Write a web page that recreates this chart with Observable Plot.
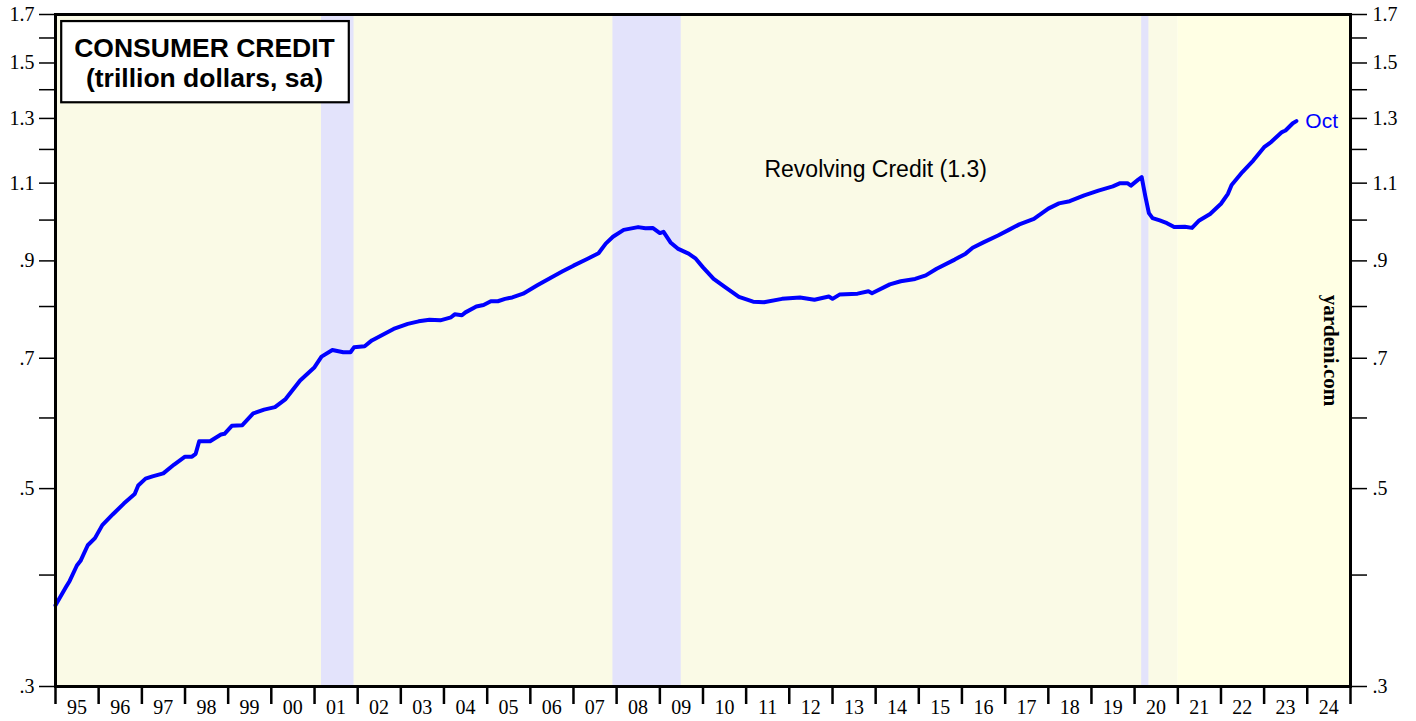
<!DOCTYPE html>
<html><head><meta charset="utf-8">
<script src="https://cdn.jsdelivr.net/npm/d3@7"></script>
<script src="https://cdn.jsdelivr.net/npm/@observablehq/plot@0.6"></script>
<style>body{margin:0;background:#fff;} #chart svg{display:block;}</style>
</head><body><div id="chart"></div>
<script>
// Revolving consumer credit, trillion dollars, sa
const dates = ["1995-01","1995-04","1995-05","1995-07","1995-08","1995-10","1995-12",
"1996-02","1996-05","1996-08","1996-11","1996-12","1997-02","1997-04","1997-07","1997-10",
"1998-01","1998-03","1998-04","1998-05","1998-08","1998-11","1998-12","1999-02","1999-05",
"1999-08","1999-11","2000-02","2000-05","2000-09","2001-01","2001-03","2001-06","2001-09",
"2001-11","2001-12","2002-03","2002-05","2002-11","2003-03","2003-06","2003-09","2003-12",
"2004-03","2004-04","2004-06","2004-07","2004-10","2004-12","2005-02","2005-04","2005-06",
"2005-08","2005-11","2006-03","2006-07","2006-10","2007-01","2007-05","2007-08","2007-10",
"2007-12","2008-03","2008-07","2008-09","2008-11","2009-01","2009-02","2009-04","2009-06",
"2009-09","2009-11","2010-01","2010-04","2010-07","2010-11","2011-03","2011-06","2011-11",
"2012-04","2012-08","2012-12","2013-01","2013-03","2013-08","2013-11","2013-12","2014-05",
"2014-08","2014-12","2015-03","2015-06","2015-11","2016-02","2016-04","2016-07","2016-11",
"2017-02","2017-05","2017-09","2018-01","2018-04","2018-07","2018-11","2019-03","2019-07",
"2019-09","2019-11","2019-12","2020-02","2020-03","2020-04","2020-05","2020-06","2020-08",
"2020-10","2020-12","2021-03","2021-05","2021-07","2021-10","2022-01","2022-03","2022-04",
"2022-07","2022-10","2023-01","2023-03","2023-06","2023-07","2023-09","2023-10"];
const values = [0.370,0.388,0.394,0.410,0.415,0.432,0.440,
0.455,0.468,0.481,0.493,0.504,0.513,0.516,0.520,0.532,
0.543,0.543,0.547,0.565,0.565,0.575,0.576,0.588,0.589,
0.607,0.613,0.617,0.630,0.661,0.684,0.703,0.715,0.711,
0.711,0.720,0.722,0.733,0.755,0.765,0.770,0.773,0.772,
0.778,0.784,0.782,0.788,0.800,0.803,0.811,0.811,0.816,
0.819,0.827,0.845,0.863,0.876,0.889,0.905,0.918,0.941,
0.958,0.975,0.982,0.979,0.980,0.967,0.970,0.944,0.929,
0.917,0.905,0.885,0.859,0.842,0.820,0.810,0.809,0.816,
0.819,0.814,0.821,0.816,0.825,0.827,0.832,0.828,0.847,
0.854,0.859,0.867,0.882,0.903,0.917,0.931,0.944,0.961,
0.975,0.989,1.003,1.030,1.044,1.050,1.066,1.079,1.091,
1.100,1.100,1.093,1.110,1.117,1.063,1.018,1.005,0.999,
0.992,0.982,0.983,0.980,0.999,1.016,1.043,1.070,1.095,
1.132,1.166,1.207,1.223,1.255,1.260,1.284,1.291];

const recessionStarts = ["2001-03","2007-12","2020-03"];
const recessionEnds   = ["2001-12","2009-07","2020-05"];
const periodStarts = ["1995-01","2021-01"];
const periodEnds   = ["2021-01","2025-01"];

const yTickValues = [0.3,0.4,0.5,0.6,0.7,0.8,0.9,1.0,1.1,1.2,1.3,1.4,1.5,1.6,1.7];
const yLabelValues = [0.3,0.5,0.7,0.9,1.1,1.3,1.5,1.7];
const yLabelTexts = [".3",".5",".7",".9","1.1","1.3","1.5","1.7"];
const xLabelTexts = ["95","96","97","98","99","00","01","02","03","04","05","06","07","08","09",
"10","11","12","13","14","15","16","17","18","19","20","21","22","23","24"];
const firstYear = 1995;

const seriesName = "Revolving Credit (1.3)";
const lastLabel = "Oct";
const titleText = "CONSUMER CREDIT\n(trillion dollars, sa)";
const sourceText = "yardeni.com";

const parse = d3.utcParse("%Y-%m");
const data = dates.map((d, i) => ({date: parse(d), value: values[i]}));
const recessions = recessionStarts.map((s, i) => ({x1: parse(s), x2: parse(recessionEnds[i])}));
const periods = periodStarts.map((s, i) => ({x1: parse(s), x2: parse(periodEnds[i]), k: i}));
const yearTicks = d3.range(firstYear, firstYear + xLabelTexts.length + 1).map(y => new Date(Date.UTC(y, 0, 1)));
const midTicks = xLabelTexts.map((t, i) => new Date(Date.UTC(firstYear + i, 6, 1)));
const labelMap = new Map(yLabelValues.map((v, i) => [Math.round(v * 10), yLabelTexts[i]]));
const yFmt = d => labelMap.get(Math.round(d * 10)) ?? "";
const xFmt = d => xLabelTexts[d.getUTCFullYear() - firstYear];
const last = data[data.length - 1];

const SERIF = "'Liberation Serif','Times New Roman',Times,serif";
const SANS = "'Liberation Sans',Arial,Helvetica,sans-serif";

const chart = Plot.plot({
  width: 1416, height: 721,
  marginLeft: 55, marginRight: 66, marginTop: 14, marginBottom: 35,
  style: {fontFamily: SERIF, fontSize: "20px", background: "#fff", color: "#000"},
  x: {type: "utc", domain: [yearTicks[0], yearTicks[yearTicks.length - 1]]},
  y: {type: "log", domain: [0.3, 1.7]},
  marks: [
    Plot.rect(periods, {x1: "x1", x2: "x2", fill: d => d.k === 0 ? "#fafae6" : "#ffffe4"}),
    Plot.rect(recessions, {x1: "x1", x2: "x2", fill: "#e3e3fb"}),
    Plot.axisY({anchor: "left", ticks: yTickValues, tickSize: 16, tickPadding: 5, tickFormat: yFmt,
      strokeWidth: 1.5, fontSize: 20, fontFamily: SERIF, label: null}),
    Plot.axisY({anchor: "right", ticks: yTickValues, tickSize: 16, tickPadding: 6, tickFormat: yFmt,
      strokeWidth: 1.5, fontSize: 20, fontFamily: SERIF, label: null}),
    Plot.axisX({ticks: yearTicks, tickSize: 18, tickFormat: () => "", strokeWidth: 2.5, label: null}),
    Plot.axisX({ticks: midTicks, tickSize: 0, tickPadding: 13, tickFormat: xFmt,
      fontSize: 20, fontFamily: SERIF, label: null}),
    Plot.line(data, {x: "date", y: "value", stroke: "#0000ff", strokeWidth: 4,
      strokeLinejoin: "round", strokeLinecap: "round"}),
    Plot.text([last], {x: "date", y: "value", text: () => lastLabel, dx: 9, textAnchor: "start",
      fill: "#0000ff", fontSize: 21, fontFamily: SANS}),
    Plot.text([seriesName], {x: () => parse("2014-01"), y: () => 1.14, text: d => d,
      fontSize: 23, fontFamily: SANS, fill: "#000"}),
    Plot.text([sourceText], {frameAnchor: "right", dx: -20, rotate: 90, text: d => d,
      textAnchor: "middle", lineAnchor: "middle",
      fontSize: 21, fontWeight: "bold", fontFamily: SERIF, fill: "#000"}),
    Plot.text([titleText], {frameAnchor: "top-left", dx: 149, dy: 48, text: d => d,
      textAnchor: "middle", lineAnchor: "middle", lineHeight: 1.14,
      fontSize: 26.5, fontWeight: "bold", fontFamily: SANS, fill: "#000"}),
    Plot.frame({stroke: "#000", strokeWidth: 3})
  ]
});
document.getElementById("chart").append(chart);

// white framed box behind the title block
const tt = [...chart.querySelectorAll("text")].find(t => t.textContent.includes("CONSUMER"));
if (tt) {
  const bb = tt.getBBox();
  const r = document.createElementNS("http://www.w3.org/2000/svg", "rect");
  r.setAttribute("x", bb.x - 13);
  r.setAttribute("y", bb.y - 12);
  r.setAttribute("width", bb.width + 27);
  r.setAttribute("height", bb.height + 21);
  r.setAttribute("fill", "#fff");
  r.setAttribute("stroke", "#000");
  r.setAttribute("stroke-width", 2.2);
  const tr = tt.getAttribute("transform");
  if (tr) r.setAttribute("transform", tr);
  tt.parentNode.insertBefore(r, tt);
}
</script>
</body></html>
